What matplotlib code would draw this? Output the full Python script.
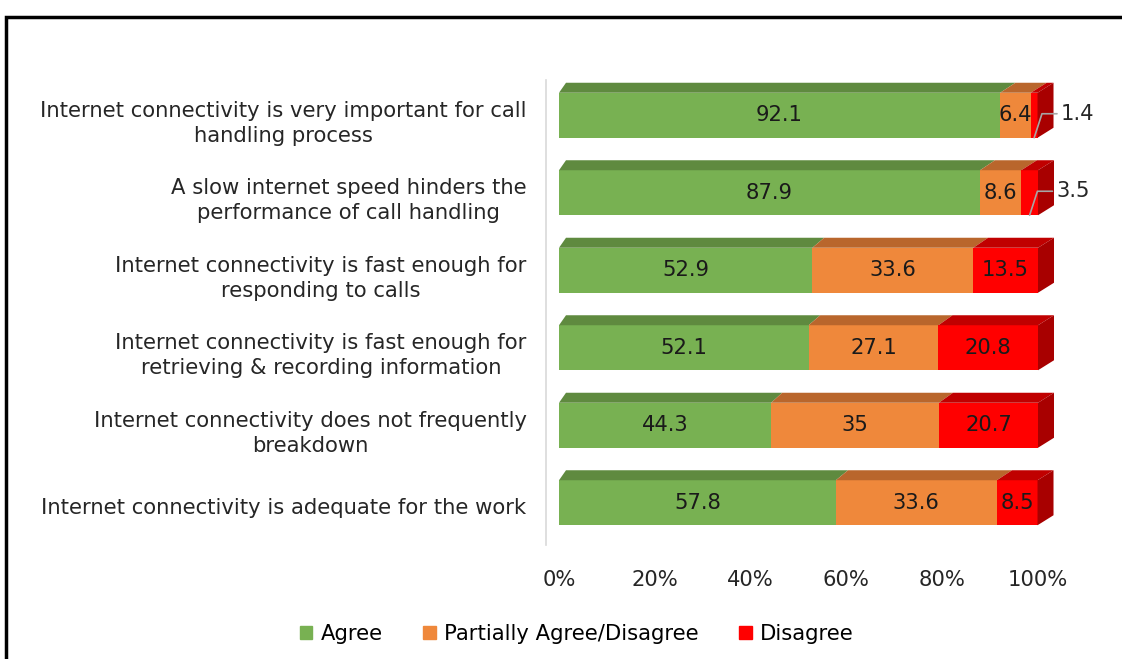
import numpy as np
import matplotlib.pyplot as plt
from matplotlib.patches import Polygon, Patch, Rectangle
from matplotlib.transforms import ScaledTranslation

plt.rcParams['font.family'] = ['DejaVu Sans']

statements = [
    "Internet connectivity is very important for call\nhandling process",
    "A slow internet speed hinders the\nperformance of call handling",
    "Internet connectivity is fast enough for\nresponding to calls",
    "Internet connectivity is fast enough for\nretrieving & recording information",
    "Internet connectivity does not frequently\nbreakdown",
    "Internet connectivity is adequate for the work",
]
agree = [92.1, 87.9, 52.9, 52.1, 44.3, 57.8]
partial = [6.4, 8.6, 33.6, 27.1, 35, 33.6]
disagree = [1.4, 3.5, 13.5, 20.8, 20.7, 8.5]
series_names = ["Agree", "Partially Agree/Disagree", "Disagree"]
xticks = [0, 20, 40, 60, 80, 100]

front_colors = ["#78b152", "#ef883b", "#ff0000"]
top_colors = ["#5f8a3f", "#b9662c", "#c00000"]
side_color = "#a80000"

W, H = 1122, 659
fig = plt.figure(figsize=(W / 100, H / 100), dpi=100)

# pixel layout
X0, X100 = 559, 1038          # front face 0% and 100%
AX_L, AX_R = 546, 1100
AX_T, AX_B = 80, 545
ppu = (X100 - X0) / 100.0
ax = fig.add_axes([AX_L / W, (H - AX_B) / H, (AX_R - AX_L) / W, (AX_B - AX_T) / H])
ax.set_xlim((AX_L - X0) / ppu, (AX_R - X0) / ppu)
n = len(statements)
ax.set_ylim(n - 0.5, -0.5)
row_px = (AX_B - AX_T) / n

face_h = 45 / row_px
shift = -3.5 / row_px
dy = 10 / row_px


def dx(x):
    # perspective: depth offset grows towards the right
    return (7 + 9 * x / 100.0) / ppu


fs = 15.2
data = [agree, partial, disagree]
for i in range(n):
    yc = i + shift
    yt, yb = yc - face_h / 2, yc + face_h / 2
    left = 0.0
    for k, vals in enumerate(data):
        v = vals[i]
        r = left + v
        ax.barh(yc, v, left=left, height=face_h, color=front_colors[k], lw=0, zorder=2)
        ax.add_patch(Polygon([(left, yt), (r, yt), (r + dx(r), yt - dy), (left + dx(left), yt - dy)],
                             closed=True, fc=top_colors[k], ec='none', zorder=2))
        if k == 2:
            ax.add_patch(Polygon([(r, yt), (r + dx(r), yt - dy), (r + dx(r), yb - dy), (r, yb)],
                                 closed=True, fc=side_color, ec='none', zorder=2))
        lab = f"{v:g}"
        if v < 5:
            ax.annotate(lab, xy=(left + v / 2, yb), xytext=(27, 24), textcoords='offset pixels',
                        ha='left', va='center', fontsize=fs, color='#262626',
                        arrowprops=dict(arrowstyle='-', color='#a6a6a6', lw=1.2,
                                        shrinkA=1, shrinkB=0,
                                        connectionstyle='angle,angleA=0,angleB=72,rad=0'),
                        zorder=4)
        else:
            ax.text(left + v / 2, yc, lab, ha='center', va='center', fontsize=fs,
                    color='#1a1a1a', zorder=3)
        left = r

ax.set_yticks(range(n))
ax.set_yticklabels(statements, fontsize=fs, color='#262626', linespacing=1.32)
for t in ax.get_yticklabels():
    t.set_multialignment('center')
    t.set_transform(t.get_transform() + ScaledTranslation(0, -8.5 / 100, fig.dpi_scale_trans))
ax.tick_params(axis='y', length=0, pad=14)

ax.set_xticks(xticks)
ax.set_xticklabels([f"{t}%" for t in xticks], fontsize=fs, color='#262626')
for t in ax.get_xticklabels():
    t.set_transform(t.get_transform() + ScaledTranslation(-10 / 100, 0, fig.dpi_scale_trans))
ax.tick_params(axis='x', length=0, pad=18)

for s in ['top', 'right', 'bottom']:
    ax.spines[s].set_visible(False)
ax.spines['left'].set_color('#d9d9d9')
ax.spines['left'].set_linewidth(1.2)

handles = [Patch(color=c, label=l) for c, l in zip(front_colors, series_names)]
fig.legend(handles=handles, loc='center', bbox_to_anchor=(0.514, (H - 634) / H), ncol=3,
           frameon=False, fontsize=fs, handlelength=0.6, handleheight=0.6,
           handletextpad=0.4, columnspacing=1.9)

# outer frame (extends past the image edges)
fig.patches.append(Rectangle((6 / W, -0.2), 1.5, (H - 17) / H + 0.2, transform=fig.transFigure,
                             fill=False, ec='black', lw=2.5, zorder=10))

fig.savefig("out.png", dpi=100)
